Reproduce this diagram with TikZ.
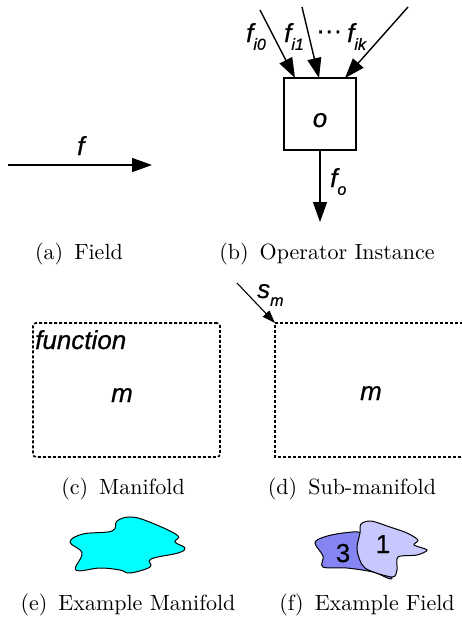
\documentclass[tikz,border=0pt]{standalone}
\usepackage{fontspec}
\newfontfamily\lsans{Liberation Sans}[FakeBold=0.6]
\newfontfamily\capfont{lmroman10-regular}[Extension=.otf]
\usetikzlibrary{arrows.meta}
\newcommand\mysub[1]{\raisebox{-0.3em}{\fontsize{16}{16}\selectfont #1}}
\definecolor{regthree}{RGB}{132,132,242}
\definecolor{regone}{RGB}{200,200,255}
\definecolor{blobcyan}{RGB}{0,255,255}
\begin{document}
\begin{tikzpicture}[x=1pt,y=-1pt,
  lbl/.style={font=\lsans\itshape\fontsize{26}{26}\selectfont, inner sep=0pt, anchor=base west},
  num/.style={font=\lsans\fontsize{26}{26}\selectfont, inner sep=0pt, anchor=base},
  captxt/.style={font=\capfont\fontsize{22}{26}\selectfont, inner sep=0pt, anchor=base},
  arr/.style={line width=1.4pt, -{Triangle[length=20pt,width=14pt]}},
  smallarr/.style={line width=1.1pt, -{Triangle[length=13pt,width=9pt]}},
  dotbox/.style={line width=1.6pt, dash pattern=on 3pt off 2pt},
  blob/.style={draw=black, line width=1pt},
]
\useasboundingbox (0,0) rectangle (462,619);

% (a) Field
\coordinate (fs) at (8,165);
\coordinate (fe) at (152,165);
\draw[arr] (fs) -- (fe);
\node[lbl] (flab) at (77,155) {f};
\node[captxt] (capa) at (79,259) {(a)\hspace{0.5em}Field};

% (b) Operator instance
\node[draw, line width=1.6pt, minimum width=72pt, minimum height=72pt, inner sep=0pt] (op) at (320,114) {};
\node[lbl, anchor=base] (olab) at (320,127) {o};
\coordinate (i0s) at (260,10);
\coordinate (i0e) at (295,78);
\coordinate (i1s) at (302,7);
\coordinate (i1e) at (319,78);
\coordinate (iks) at (408,7);
\coordinate (ike) at (345,78);
\draw[arr] (i0s) -- (i0e);
\draw[arr] (i1s) -- (i1e);
\draw[arr] (iks) -- (ike);
\coordinate (oe) at (320,222);
\draw[arr] (op.south) -- (oe);
\node[lbl] (fi0) at (246,42) {f\mysub{i0}};
\node[lbl] (fi1) at (284,42) {f\mysub{i1}};
\node[lbl, font=\lsans\fontsize{26}{26}\selectfont] (dots) at (316,39) {···};
\node[lbl] (fik) at (347,42) {f\mysub{ik}};
\node[lbl] (fo) at (330,187) {f\mysub{o}};
\node[captxt] (capb) at (327,259) {(b)\hspace{0.5em}Operator Instance};

% (c) Manifold
\node[draw, dotbox, rounded corners=3pt, minimum width=187pt, minimum height=134pt, inner sep=0pt] (man) at (126.5,390) {};
\node[lbl] (func) at (35,349) {function};
\node[lbl, anchor=base] (mc) at (122,402) {m};
\node[captxt] (capc) at (123,494) {(c)\hspace{0.5em}Manifold};

% (d) Sub-manifold
\coordinate (sm) at (275,323);
\draw[dotbox] (463,323) -- (sm) -- (275,457) -- (463,457);
\coordinate (sms) at (237,283);
\draw[smallarr] (sms) -- (sm);
\node[lbl] (slab) at (257,298) {s\mysub{m}};
\node[lbl, anchor=base] (md) at (371,400) {m};
\node[captxt] (capd) at (352,494) {(d)\hspace{0.5em}Sub-manifold};

% (e) Example manifold
\draw[blob, fill=blobcyan] plot[smooth cycle, tension=0.65] coordinates {
  (70,542) (83,534) (112,531) (117,521) (130,517) (147,521) (177,535)
  (175,542) (185,548) (178,553) (151,559) (150,567) (130,573) (120,570)
  (100,568) (76,570) (82,553)};
\node[captxt] (cape) at (128,610) {(e)\hspace{0.5em}Example Manifold};

% (f) Example field
\draw[blob, fill=regthree] plot[smooth cycle, tension=0.55] coordinates {
  (315,543) (324,537) (343,533) (362,533) (372,548) (392,578)
  (373,572) (347,568) (323,567) (323,556)};
\draw[blob, fill=regone] plot[smooth cycle, tension=0.5] coordinates {
  (361,524) (371,521) (390,527) (407,533) (418,540) (414,545) (427,550)
  (417,555) (398,557) (397,570) (392,577) (365,568) (357,550) (360,533)};
\node[num] (three) at (343,562) {3};
\node[num] (one) at (383,553) {1};
\node[captxt] (capf) at (367,610) {(f)\hspace{0.5em}Example Field};
\end{tikzpicture}
\end{document}
